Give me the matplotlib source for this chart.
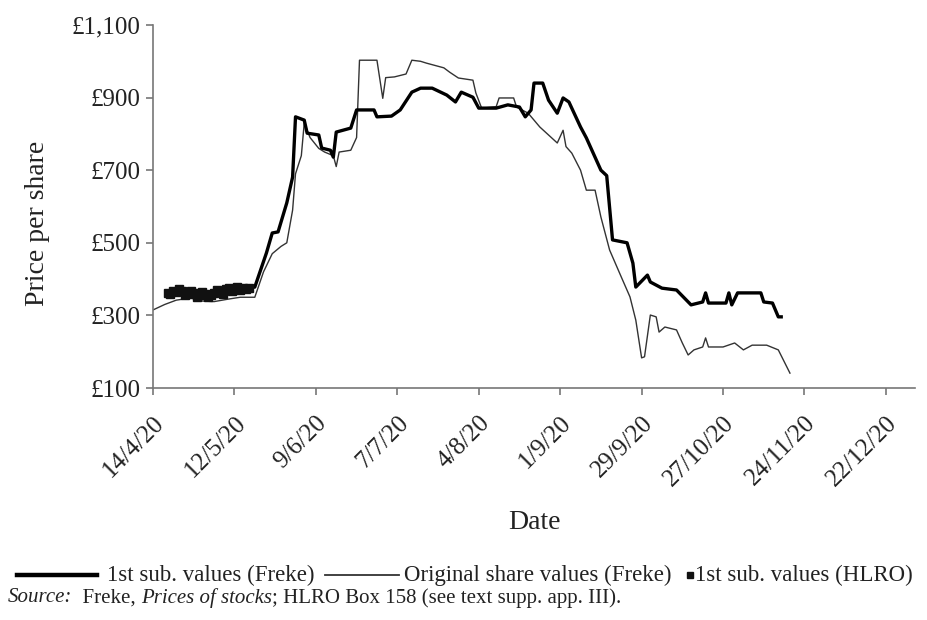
import matplotlib
matplotlib.use("Agg")
import matplotlib.pyplot as plt
from matplotlib.lines import Line2D
import numpy as np

plt.rcParams['font.family'] = ['Liberation Serif', 'DejaVu Serif']

# Days since 14 April 1720
orig_days = [0, 4, 8, 13, 16, 21, 26, 30, 35, 38, 41, 44, 46, 48, 49, 51, 52, 54, 57, 59,
             62, 63, 64, 68, 70, 71, 77, 79, 80, 83, 87, 89, 92, 94, 100, 102, 105, 110, 111, 113,
             118, 119, 124, 125, 129, 133, 139, 141, 142, 144, 147, 149, 152, 154, 157, 161, 164, 166, 168, 169,
             171, 173, 174, 176, 180, 182, 184, 186, 189, 190, 191, 196, 200, 203, 206, 211, 215, 219]
orig_vals = [315, 330, 342, 348, 340, 338, 345, 350, 350, 420, 470, 490, 500, 590, 690, 740, 830, 790, 760, 750,
             740, 710, 750, 755, 790, 1003, 1003, 898, 955, 957, 965, 1003, 1000, 995, 982, 970, 954, 948, 913, 871,
             875, 899, 899, 874, 857, 819, 775, 810, 765, 747, 700, 645, 645, 571, 480, 406, 351, 287, 183, 186,
             301, 296, 254, 268, 260, 224, 191, 205, 213, 238, 213, 213, 224, 205, 218, 218, 205, 141]

sub_days = [5, 9, 16, 23, 30, 35, 39, 41, 43, 46, 48, 49, 52, 53, 57, 58, 61, 62, 63, 68,
            70, 76, 77, 82, 85, 89, 92, 96, 101, 104, 106, 110, 112, 118, 122, 126, 128, 130, 131, 134,
            136, 139, 141, 143, 147, 149, 154, 156, 158, 163, 165, 166, 170, 171, 175, 180, 185, 189, 190, 191,
            197, 198, 199, 201, 209, 210, 213, 215, 216]
sub_vals = [365, 368, 362, 368, 372, 378, 472, 527, 530, 610, 681, 847, 838, 802, 797, 761, 755, 736, 805, 816,
            866, 866, 847, 849, 866, 915, 926, 926, 907, 888, 915, 901, 871, 871, 880, 874, 847, 866, 940, 940,
            893, 857, 899, 888, 819, 789, 700, 685, 508, 500, 444, 378, 411, 392, 375, 370, 329, 337, 362, 334,
            334, 362, 329, 362, 362, 337, 334, 296, 296]

hlro_days = [5, 6, 7, 8, 9, 10, 11, 12, 13, 14, 15, 16, 17, 18, 19, 20, 21, 22, 23, 24, 25, 26, 27, 28, 29, 30, 31, 32, 33]
hlro_vals = [362, 358, 368, 365, 372, 366, 355, 360, 368, 362, 352, 356, 365, 358, 350, 355, 362, 370, 365, 360,
             372, 376, 368, 374, 378, 370, 376, 372, 375]

tick_days = [0, 28, 56, 84, 112, 140, 168, 196, 224, 252]
tick_labels = ['14/4/20', '12/5/20', '9/6/20', '7/7/20', '4/8/20', '1/9/20', '29/9/20',
               '27/10/20', '24/11/20', '22/12/20']
y_ticks = [100, 300, 500, 700, 900, 1100]
y_labels = ['£100', '£300', '£500', '£700', '£900', '£1,100']

W, H = 928, 620
fig = plt.figure(figsize=(W / 100, H / 100), dpi=100)
ax = fig.add_axes([153 / W, 1 - 388 / H, (915 - 153) / W, (388 - 25) / H])

ax.plot(orig_days, orig_vals, color='#333333', lw=1.0, zorder=2)
ax.plot(sub_days, sub_vals, color='black', lw=2.4, zorder=3)
ax.plot(hlro_days, hlro_vals, ls='none', marker='s', ms=5.5, color='#111111', zorder=4)

ax.set_xlim(0, 262)
ax.set_ylim(100, 1100)
ax.set_xticks(tick_days)
ax.set_xticklabels(tick_labels, rotation=45, ha='right', rotation_mode='anchor', fontsize=18)
ax.set_yticks(y_ticks)
ax.set_yticklabels(y_labels, fontsize=18)
for s in ['top', 'right']:
    ax.spines[s].set_visible(False)
for s in ['left', 'bottom']:
    ax.spines[s].set_color('#777777')
    ax.spines[s].set_linewidth(1.2)
ax.tick_params(axis='both', colors='#777777', length=5, width=1.2, labelcolor='#222222')
ax.tick_params(axis='x', pad=12)
ax.tick_params(axis='y', pad=4)
ax.set_xlabel('Date', fontsize=20, labelpad=14, color='#222222')
ax.set_ylabel('Price per share', fontsize=20, color='#222222')
ax.yaxis.set_label_coords((50 - 153) / (915 - 153), 1 - (223 - 25) / (388 - 25))

# Manual legend row
fig.canvas.draw()
r = fig.canvas.get_renderer()
ly = 1 - 575 / H

def add_text(xpix, s, style='normal', y=ly, fs=16.5):
    t = fig.text(xpix / W, y, s, fontsize=fs, style=style, va='center', ha='left', color='#222222')
    return xpix + t.get_window_extent(renderer=r).width

fig.add_artist(Line2D([17 / W, 97 / W], [ly, ly], color='black', lw=3.2))
x = add_text(107, '1st sub. values (Freke)')
fig.add_artist(Line2D([(x + 10) / W, (x + 85) / W], [ly, ly], color='#333333', lw=1.3))
x = add_text(x + 90, 'Original share values (Freke)')
fig.add_artist(Line2D([(x + 18) / W], [ly], ls='none', marker='s', ms=4.5, color='#111111'))
x = add_text(x + 23, '1st sub. values (HLRO)')

# Source line with italic pieces
sy = 1 - 598 / H
x = 8
for txt, st in [('Source:', 'italic'), ('  Freke, ', 'normal'), ('Prices of stocks', 'italic'),
                ('; HLRO Box 158 (see text supp. app. III).', 'normal')]:
    x = add_text(x, txt, st, sy, fs=15)

fig.savefig('out.png', dpi=100)
